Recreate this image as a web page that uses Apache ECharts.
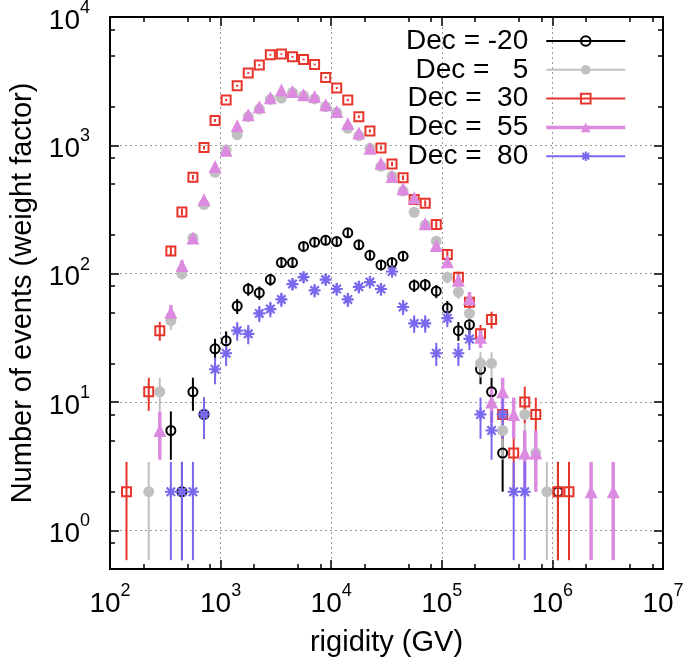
<!DOCTYPE html>
<html>
<head>
<meta charset="utf-8">
<script src="https://cdn.jsdelivr.net/npm/echarts@6/dist/echarts.min.js"></script>
<style>html,body{margin:0;padding:0;background:#fff}#c{width:684px;height:666px}</style>
</head>
<body>
<div id="c"></div>
<script>
// rigidity bin centres (GV)
const rigidity = [141, 178, 224, 282, 355, 447, 562, 708, 891, 1122,
  1413, 1778, 2239, 2818, 3548, 4467, 5623, 7079, 8913, 11220,
  14125, 17783, 22387, 28184, 35481, 44668, 56234, 70795, 89125, 112202,
  141254, 177828, 223872, 281838, 354813, 446684, 562341, 707946, 891251, 1122018,
  1412538, 1778279, 2238721, 2818383, 3548134];

const decM20 = [null, null, null, null, 6, 2, 12, 8, 26, 30,
  56, 76, 71, 90, 122, 122, 163, 176, 182, 178,
  208, 168, 139, 117, 122, 137, 81, 82, 73, 54,
  36, 40, 18, 12, 4, null, null, null, null, 2,
  null, null, null, null, null];

const dec5 = [null, null, 2, 12, 43, 100, 190, 346, 617, 921,
  1211, 1672, 1919, 2280, 2337, 2580, 2434, 2300, 2000, 1806,
  1356, 1190, 948, 687, 575, 440, 301, 240, 179, 94,
  72, 49, 20, 20, 6, null, 8, 4, 2, null,
  null, null, null, null, null];

const dec30 = [2, null, 12, 36, 150, 303, 564, 960, 1565, 2255,
  2913, 3656, 4220, 5073, 5140, 4896, 4665, 4266, 3380, 2794,
  2255, 1672, 1294, 955, 717, 560, 378, 354, 242, 141,
  94, 60, 34, 44, 8, 4, 10, 8, null, 2,
  2, null, null, null, null];

const dec55 = [null, null, null, 6, 50, 116, 190, 376, 683, 914,
  1423, 1733, 2000, 2346, 2698, 2630, 2479, 2400, 2072, 1838,
  1483, 1249, 948, 724, 571, 458, 390, 245, 166, 124,
  89, 64, 32, 10, 12, 8, 4, 4, null, null,
  null, null, 2, null, 2];

const dec80 = [null, null, null, null, 2, 2, 2, 8, 18, 24,
  36, 34, 49, 53, 63, 83, 94, 74, 90, 76,
  63, 79, 86, 76, 104, 55, 41, 41, 24, 45,
  24, 31, 8, 6, 8, 2, 2, null, null, null,
  null, null, null, null, null];

const seriesNames = ['Dec = -20', 'Dec =   5', 'Dec =  30', 'Dec =  55', 'Dec =  80'];
const xMajorTicks = [1e3, 1e4, 1e5, 1e6];
const xTickLabels = [1e2, 1e3, 1e4, 1e5, 1e6, 1e7];
const xMinorTicks = [200, 500, 800, 2000, 5000, 8000, 2e4, 5e4, 8e4, 2e5, 5e5, 8e5, 2e6, 5e6, 8e6];
const yMajorTicks = [1, 10, 100, 1000];
const yTickLabels = [1, 10, 100, 1000, 10000];
const yMinorTicks = [0.8, 2, 5, 8, 20, 50, 80, 200, 500, 800, 2000, 5000, 8000];

const F = 'Liberation Sans';
const values = [decM20, dec5, dec30, dec55, dec80];
const colors = ['#000000', '#c0c0c0', '#e8352c', '#dc8ae0', '#7868ee'];
const fills = ['rgba(0,0,0,0)', '#c0c0c0', 'rgba(0,0,0,0)', '#dc8ae0', 'rgba(0,0,0,0)'];
const borderW = [2, 0, 2, 0, 2.2];
const symbols = ['circle', 'circle', 'rect', 'triangle',
  'path://M5,0 L5,10 M0,5 L10,5 M1.5,1.5 L8.5,8.5 M1.5,8.5 L8.5,1.5'];
const symSizes = [9, 11, 9, 13, 12];
const barW = [2, 2, 2, 3.5, 2];

const chart = echarts.init(document.getElementById('c'), null, {renderer: 'canvas'});

const series = [];
values.forEach((arr, i) => {
  const pts = [], bars = [];
  arr.forEach((v, k) => {
    if (v == null) return;
    const e = Math.sqrt(v);
    pts.push([rigidity[k], v]);
    bars.push([rigidity[k], v, v - e, v + e]);
  });
  series.push({
    type: 'custom', silent: true, clip: true, data: bars, encode: {x: 0, y: 1},
    renderItem: (p, api) => {
      const a = api.coord([api.value(0), api.value(2)]);
      const b = api.coord([api.value(0), api.value(3)]);
      return {type: 'line', shape: {x1: a[0], y1: a[1], x2: b[0], y2: b[1]},
        style: {stroke: colors[i], lineWidth: barW[i]}};
    }
  });
  series.push({
    type: 'line', name: seriesNames[i], data: pts, symbol: symbols[i], symbolSize: symSizes[i],
    showAllSymbol: true, silent: true, clip: true,
    lineStyle: {color: colors[i], opacity: 0, width: 2},
    itemStyle: {color: fills[i], borderColor: colors[i], borderWidth: borderW[i], opacity: 1},
    emphasis: {disabled: true}
  });
});

const labelRich = {
  b: {fontFamily: F, fontSize: 28, color: '#000', lineHeight: 36, verticalAlign: 'bottom'},
  s: {fontFamily: F, fontSize: 18, color: '#000', lineHeight: 36, verticalAlign: 'top'}
};
const powFmt = v => '{b|10}{s|' + Math.round(Math.log10(v)) + '}';
const frameLine = {show: true, lineStyle: {color: '#000', width: 2}};
const gridLine = {show: true, lineStyle: {color: '#999', width: 1, type: [2, 3]}};

function logAxis(extra) {
  return Object.assign({type: 'log', logBase: 10}, extra);
}

const xBase = {min: 100, max: 1e7, gridIndex: 0};
const yBase = {min: 0.5, max: 1e4, gridIndex: 0};

const option = {
  animation: false,
  backgroundColor: '#fff',
  grid: {left: 110, right: 21, top: 17, bottom: 97, containLabel: false, outerBoundsMode: 'none'},
  xAxis: [
    logAxis(Object.assign({}, xBase, {
      position: 'bottom', axisLine: frameLine,
      axisTick: {show: true, inside: true, length: 9, lineStyle: {color: '#000', width: 1.5}, customValues: xMajorTicks},
      axisLabel: {show: true, margin: 13, customValues: xTickLabels, formatter: powFmt, rich: labelRich},
      splitLine: gridLine, minorTick: {show: false},
      name: 'rigidity (GV)', nameLocation: 'middle', nameGap: 59,
      nameTextStyle: {fontFamily: F, fontSize: 29, color: '#000'}
    })),
    logAxis(Object.assign({}, xBase, {
      position: 'top', axisLine: frameLine,
      axisTick: {show: true, inside: true, length: 9, lineStyle: {color: '#000', width: 1.5}, customValues: xMajorTicks},
      axisLabel: {show: false}, splitLine: {show: false}
    })),
    logAxis(Object.assign({}, xBase, {
      position: 'bottom', axisLine: {show: false},
      axisTick: {show: true, inside: true, length: 5, lineStyle: {color: '#000', width: 1.5}, customValues: xMinorTicks},
      axisLabel: {show: false}, splitLine: {show: false}
    })),
    logAxis(Object.assign({}, xBase, {
      position: 'top', axisLine: {show: false},
      axisTick: {show: true, inside: true, length: 5, lineStyle: {color: '#000', width: 1.5}, customValues: xMinorTicks},
      axisLabel: {show: false}, splitLine: {show: false}
    }))
  ],
  yAxis: [
    logAxis(Object.assign({}, yBase, {
      position: 'left', axisLine: frameLine,
      axisTick: {show: true, inside: true, length: 9, lineStyle: {color: '#000', width: 1.5}, customValues: yMajorTicks},
      axisLabel: {show: true, margin: 20, customValues: yTickLabels, formatter: powFmt, rich: labelRich},
      splitLine: gridLine, minorTick: {show: false},
      name: 'Number of events (weight factor)', nameLocation: 'middle', nameGap: 70,
      nameTextStyle: {fontFamily: F, fontSize: 29, color: '#000'}
    })),
    logAxis(Object.assign({}, yBase, {
      position: 'right', axisLine: frameLine,
      axisTick: {show: true, inside: true, length: 9, lineStyle: {color: '#000', width: 1.5}, customValues: yMajorTicks},
      axisLabel: {show: false}, splitLine: {show: false}
    })),
    logAxis(Object.assign({}, yBase, {
      position: 'left', axisLine: {show: false},
      axisTick: {show: true, inside: true, length: 5, lineStyle: {color: '#000', width: 1.5}, customValues: yMinorTicks},
      axisLabel: {show: false}, splitLine: {show: false}
    })),
    logAxis(Object.assign({}, yBase, {
      position: 'right', axisLine: {show: false},
      axisTick: {show: true, inside: true, length: 5, lineStyle: {color: '#000', width: 1.5}, customValues: yMinorTicks},
      axisLabel: {show: false}, splitLine: {show: false}
    }))
  ],
  legend: {
    orient: 'vertical', right: 57, top: 27, padding: 0, itemGap: 0.8,
    itemWidth: 79, itemHeight: 12, align: 'right', selectedMode: false,
    data: seriesNames.map((n, i) => ({name: n, lineStyle: {color: colors[i], width: barW[i], opacity: 1}})),
    formatter: n => '{t|' + n + '}',
    textStyle: {fontFamily: F, fontSize: 28, color: '#000',
      rich: {t: {fontFamily: F, fontSize: 28, color: '#000', width: 124, align: 'right', lineHeight: 29.2, padding: [0, 13, 0, 0]}}}
  },
  series: series
};
chart.setOption(option);
</script>
</body>
</html>
